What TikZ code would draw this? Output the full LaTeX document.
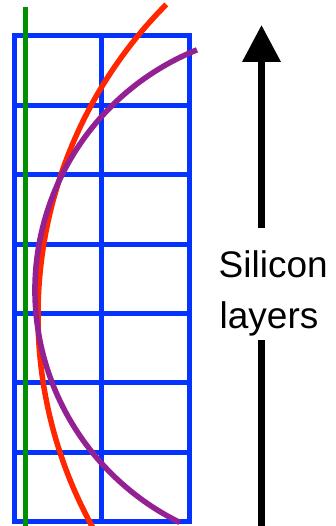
\documentclass[tikz,border=0pt]{standalone}
\usepackage{fontspec}
\setmainfont{Liberation Sans}
\usetikzlibrary{arrows.meta}
\definecolor{gridblue}{RGB}{4,51,255}
\definecolor{trkgreen}{RGB}{0,143,0}
\definecolor{trkred}{RGB}{255,38,0}
\definecolor{trkpurple}{RGB}{148,33,147}
\tikzset{
  gridline/.style={draw=gridblue, line width=5pt, line join=miter},
  greenline/.style={draw=trkgreen, line width=5pt},
  redcurve/.style={draw=trkred, line width=5.5pt},
  purplecurve/.style={draw=trkpurple, line width=5.5pt},
  bigarrow/.style={draw=black, line width=7pt},
  lbl/.style={inner sep=0pt, font=\fontsize{37}{44}\selectfont, anchor=base west}
}
\begin{document}
\begin{tikzpicture}[x=1pt,y=1pt]
\useasboundingbox (0,0) rectangle (335,-526);
% grid
\draw[gridline] (14,-36) rectangle (189,-521.5);
\draw[gridline] (101.5,-36) -- (101.5,-521.5);
\foreach \k in {1,...,6} {
  \draw[gridline] (14,{-36-69.36*\k}) -- (189,{-36-69.36*\k});
}
% green straight track
\draw[greenline] (25,-7) -- (25,-540);
% red curve
\draw[redcurve] (478,-315) ++(135.1:440) arc[start angle=135.1, end angle=210, radius=440];
% purple curve
\draw[purplecurve] (294,-290) ++(112:259) arc[start angle=112, end angle=243.8, radius=259];
% label
\node[lbl] (sil) at (218.5,-277.5) {Silicon};
\node[lbl] (lay) at (219.5,-328.5) {layers};
% arrow
\coordinate (tip) at (261.5,-25);
\coordinate (upend) at (261.5,-228);
\coordinate (lowstart) at (261.5,-340);
\coordinate (lowend) at (261.5,-540);
\draw[bigarrow, -{Triangle[length=37pt,width=37pt]}] (upend) -- (tip);
\draw[bigarrow] (lowend) -- (lowstart);
\end{tikzpicture}
\end{document}
